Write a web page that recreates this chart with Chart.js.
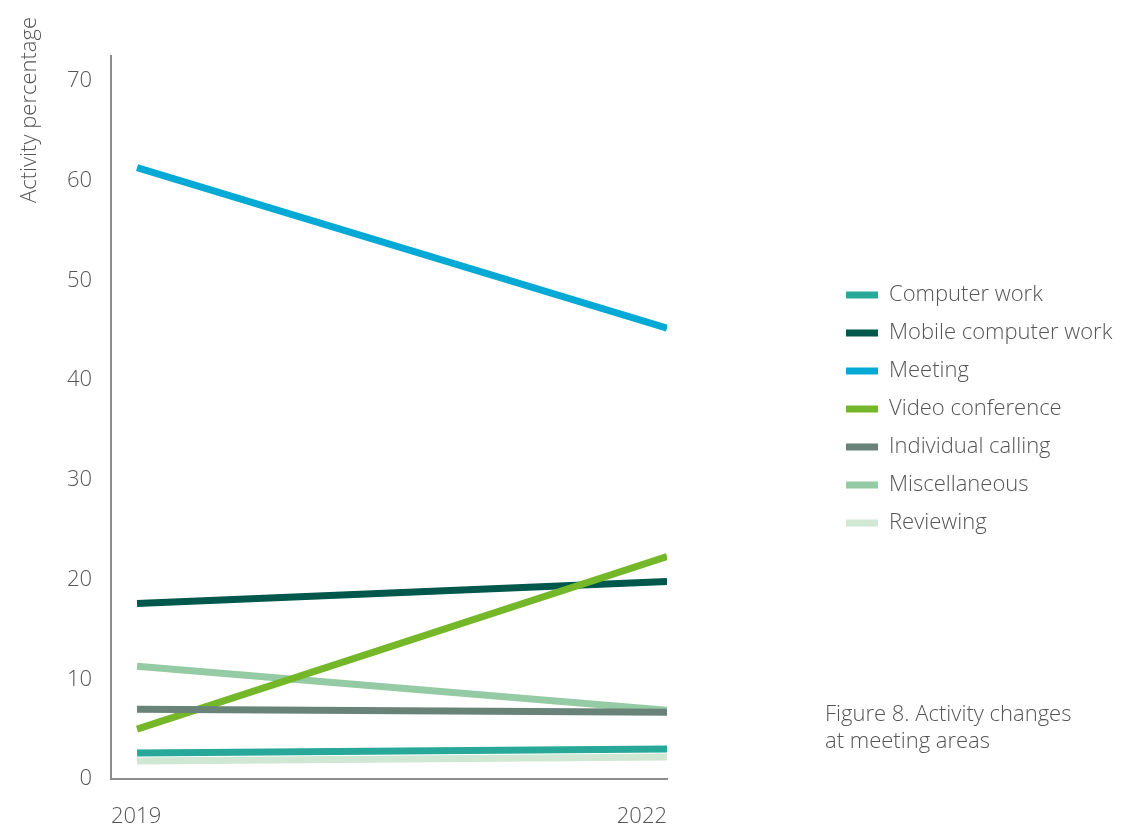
<!DOCTYPE html>
<html>
<head>
<meta charset="utf-8">
<script src="https://cdn.jsdelivr.net/npm/chart.js@4/dist/chart.umd.min.js"></script>
<style>
  html, body { margin: 0; padding: 0; background: #ffffff; }
  #wrap { position: relative; width: 1129px; height: 830px; }
  #caption {
    position: absolute; left: 825px; top: 699px;
    font-family: "Open Sans", sans-serif; font-weight: 300;
    font-size: 22px; line-height: 27px; color: #555555;
  }
</style>
</head>
<body>
<div id="wrap">
  <canvas id="c" width="1129" height="830"></canvas>
  <div id="caption">Figure 8. Activity changes<br>at meeting areas</div>
</div>
<script>
// ---- data ----
const years = [2019, 2022];
const yearLabels = ['2019', '2022'];
const yTicks = [0, 10, 20, 30, 40, 50, 60, 70];
const yTitle = 'Activity percentage';

const seriesNames = ['Computer work', 'Mobile computer work', 'Meeting', 'Video conference', 'Individual calling', 'Miscellaneous', 'Reviewing'];
const computerWork = [2.6, 3.0];
const mobileComputerWork = [17.6, 19.8];
const meeting = [61.3, 45.2];
const videoConference = [5.0, 22.3];
const individualCalling = [7.0, 6.7];
const miscellaneous = [11.3, 6.9];
const reviewing = [1.8, 2.2];

const seriesValues = [computerWork, mobileComputerWork, meeting, videoConference, individualCalling, miscellaneous, reviewing];
const seriesColors = ['#27a898', '#00574b', '#04a9d6', '#74b82a', '#698379', '#94cba4', '#cfe7d3'];
const drawOrder = [1, 4, 0, 3, 2, 5, 6];

const FONT = '"Open Sans", sans-serif';
const TEXT = '#555555';
const FS = 22;

// measure widest legend text to place the legend swatches
const mctx = document.createElement('canvas').getContext('2d');
mctx.font = '300 ' + FS + 'px ' + FONT;
const maxTextW = Math.max(...seriesNames.map(n => mctx.measureText(n).width));
const LEG_PAD = 16, BOX_W = 32;
const legendLeftSwatch = 845;
const padRight = Math.max(0, 1129 - (legendLeftSwatch + BOX_W + FS / 2 + maxTextW) - 11);

const datasets = seriesNames.map((name, i) => ({
  label: name,
  data: years.map((yr, j) => ({ x: yr, y: seriesValues[i][j] })),
  borderColor: seriesColors[i],
  backgroundColor: seriesColors[i],
  borderWidth: 7,
  borderCapStyle: 'butt',
  pointRadius: 0,
  pointHoverRadius: 0,
  tension: 0,
  fill: false,
  order: drawOrder[i]
}));

const yTitlePlugin = {
  id: 'yTitle',
  afterDraw(chart) {
    const ctx = chart.ctx;
    ctx.save();
    ctx.translate(30, 110);
    ctx.rotate(-Math.PI / 2);
    ctx.textAlign = 'center';
    ctx.textBaseline = 'middle';
    ctx.fillStyle = TEXT;
    ctx.font = '300 ' + FS + 'px ' + FONT;
    ctx.fillText(yTitle, 0, 0);
    ctx.restore();
  }
};

new Chart(document.getElementById('c'), {
  type: 'line',
  data: { datasets },
  plugins: [yTitlePlugin],
  options: {
    responsive: false,
    animation: false,
    events: [],
    layout: { padding: { top: 56, left: 0, right: padRight, bottom: 0 } },
    scales: {
      x: {
        type: 'linear',
        min: years[0] - 0.1474,
        max: years[1],
        grid: { display: false, drawTicks: false },
        border: { display: true, color: '#8c8c8c', width: 2 },
        afterBuildTicks(s) { s.ticks = [{ value: s.min }, { value: s.max }]; },
        afterFit(s) { s.height = 51; },
        ticks: {
          align: 'inner',
          maxRotation: 0,
          autoSkip: false,
          padding: 25,
          color: TEXT,
          font: { family: FONT, size: FS, weight: 300 },
          callback: (v, i) => yearLabels[i]
        }
      },
      y: {
        type: 'linear',
        min: 0,
        max: 72.5,
        grid: { display: false, drawTicks: false },
        border: { display: true, color: '#8c8c8c', width: 2 },
        afterBuildTicks(s) { s.ticks = yTicks.map(v => ({ value: v })); },
        afterFit(s) { s.width = 111; },
        ticks: {
          padding: 19,
          color: TEXT,
          font: { family: FONT, size: FS, weight: 300 },
          callback: v => String(v)
        }
      },
      gap: {
        type: 'linear',
        position: 'right',
        display: true,
        grid: { display: false, drawTicks: false },
        border: { display: false },
        ticks: { display: false },
        afterFit(s) { s.width = legendLeftSwatch - LEG_PAD - 666; }
      }
    },
    plugins: {
      tooltip: { enabled: false },
      legend: {
        position: 'right',
        align: 'center',
        fullSize: false,
        maxWidth: 600,
        title: { display: true, text: ' ', font: { size: 20 }, padding: { top: -41, bottom: 0 } },
        labels: {
          boxWidth: BOX_W,
          boxHeight: 7,
          padding: LEG_PAD,
          color: TEXT,
          font: { family: FONT, size: FS, weight: 300 },
          generateLabels(chart) {
            return Chart.defaults.plugins.legend.labels.generateLabels(chart)
              .sort((a, b) => a.datasetIndex - b.datasetIndex)
              .map(l => Object.assign(l, { fillStyle: l.strokeStyle, lineWidth: 0 }));
          }
        }
      }
    }
  }
});
</script>
</body>
</html>
